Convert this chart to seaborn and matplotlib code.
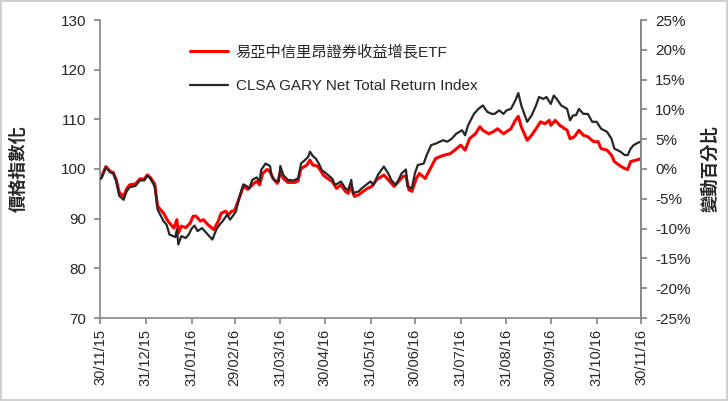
import pandas as pd
import seaborn as sns
import matplotlib.pyplot as plt

# ETF price index (rebased)
etf_dates = [
    '2015-11-30', '2015-12-01', '2015-12-04', '2015-12-07', '2015-12-09', '2015-12-11', '2015-12-13',
    '2015-12-16', '2015-12-18', '2015-12-20', '2015-12-24', '2015-12-27', '2015-12-30', '2016-01-01',
    '2016-01-03', '2016-01-06', '2016-01-08', '2016-01-12', '2016-01-15', '2016-01-19', '2016-01-21',
    '2016-01-22', '2016-01-24', '2016-01-27', '2016-01-30', '2016-02-01', '2016-02-03', '2016-02-06',
    '2016-02-08', '2016-02-11', '2016-02-15', '2016-02-18', '2016-02-20', '2016-02-23', '2016-02-25',
    '2016-02-27', '2016-02-29', '2016-03-04', '2016-03-06', '2016-03-09', '2016-03-13', '2016-03-15',
    '2016-03-17', '2016-03-19', '2016-03-22', '2016-03-24', '2016-03-26', '2016-03-29', '2016-03-31',
    '2016-04-02', '2016-04-05', '2016-04-10', '2016-04-12', '2016-04-14', '2016-04-18', '2016-04-20',
    '2016-04-22', '2016-04-25', '2016-04-27', '2016-04-29', '2016-05-01', '2016-05-05', '2016-05-08',
    '2016-05-11', '2016-05-14', '2016-05-16', '2016-05-18', '2016-05-20', '2016-05-23', '2016-05-26',
    '2016-05-29', '2016-06-01', '2016-06-04', '2016-06-09', '2016-06-12', '2016-06-16', '2016-06-19',
    '2016-06-22', '2016-06-24', '2016-06-26', '2016-06-28', '2016-07-01', '2016-07-03', '2016-07-07',
    '2016-07-10', '2016-07-14', '2016-07-17', '2016-07-20', '2016-07-24', '2016-07-27', '2016-07-31',
    '2016-08-03', '2016-08-06', '2016-08-10', '2016-08-13', '2016-08-15', '2016-08-19', '2016-08-22',
    '2016-08-25', '2016-08-29', '2016-08-31', '2016-09-03', '2016-09-06', '2016-09-08', '2016-09-10',
    '2016-09-14', '2016-09-17', '2016-09-20', '2016-09-23', '2016-09-26', '2016-09-29', '2016-09-30',
    '2016-10-03', '2016-10-06', '2016-10-11', '2016-10-13', '2016-10-16', '2016-10-19', '2016-10-22',
    '2016-10-25', '2016-10-29', '2016-11-01', '2016-11-03', '2016-11-07', '2016-11-10', '2016-11-12',
    '2016-11-16', '2016-11-19', '2016-11-21', '2016-11-23', '2016-11-27', '2016-11-30',
]
etf_values = [
    98.3, 98.5, 100.5, 99.5, 99.3, 97.8, 95.3,
    94.5, 96.0, 96.8, 97.0, 98.0, 98.0, 98.8,
    98.3, 97.0, 92.5, 91.1, 89.5, 88.1, 89.8,
    87.1, 88.5, 88.2, 89.1, 90.5, 90.5, 89.5,
    89.8, 88.8, 87.8, 89.5, 91.1, 91.5, 90.8,
    91.5, 91.6, 94.8, 96.5, 95.9, 97.1, 97.5,
    96.8, 99.1, 99.9, 99.5, 98.1, 97.1, 99.5,
    98.1, 97.3, 97.3, 97.6, 100.1, 100.8, 101.8,
    100.8, 100.6, 99.8, 98.8, 98.3, 97.5, 96.1,
    96.8, 95.5, 95.1, 96.8, 94.5, 94.8, 95.5,
    96.1, 96.5, 97.8, 98.8, 97.8, 96.5, 97.5,
    98.5, 98.6, 95.8, 95.5, 98.1, 99.1, 98.1,
    99.8, 102.1, 102.5, 102.8, 103.1, 103.8, 104.8,
    103.8, 106.1, 107.1, 108.5, 107.8, 107.1, 107.5,
    108.1, 107.1, 107.5, 108.1, 109.8, 110.6, 108.5,
    105.8, 106.8, 108.1, 109.5, 109.1, 109.8, 108.8,
    109.8, 108.8, 107.8, 106.1, 106.5, 107.8, 106.8,
    106.5, 105.5, 105.5, 104.1, 103.8, 102.8, 101.5,
    100.6, 100.1, 99.9, 101.5, 101.8, 102.1,
]

# CLSA GARY Net Total Return Index (rebased)
idx_dates = [
    '2015-11-30', '2015-12-01', '2015-12-04', '2015-12-07', '2015-12-09', '2015-12-11', '2015-12-13',
    '2015-12-16', '2015-12-18', '2015-12-20', '2015-12-24', '2015-12-27', '2015-12-30', '2016-01-01',
    '2016-01-03', '2016-01-06', '2016-01-08', '2016-01-12', '2016-01-14', '2016-01-16', '2016-01-20',
    '2016-01-21', '2016-01-22', '2016-01-24', '2016-01-27', '2016-01-29', '2016-01-31', '2016-02-02',
    '2016-02-04', '2016-02-07', '2016-02-10', '2016-02-14', '2016-02-17', '2016-02-19', '2016-02-21',
    '2016-02-24', '2016-02-26', '2016-02-28', '2016-03-01', '2016-03-04', '2016-03-06', '2016-03-08',
    '2016-03-10', '2016-03-12', '2016-03-15', '2016-03-17', '2016-03-18', '2016-03-21', '2016-03-24',
    '2016-03-25', '2016-03-27', '2016-03-30', '2016-03-31', '2016-04-02', '2016-04-05', '2016-04-09',
    '2016-04-12', '2016-04-14', '2016-04-17', '2016-04-19', '2016-04-20', '2016-04-22', '2016-04-24',
    '2016-04-26', '2016-04-28', '2016-05-01', '2016-05-05', '2016-05-07', '2016-05-09', '2016-05-11',
    '2016-05-14', '2016-05-16', '2016-05-18', '2016-05-19', '2016-05-23', '2016-05-25', '2016-05-28',
    '2016-05-31', '2016-06-02', '2016-06-05', '2016-06-09', '2016-06-12', '2016-06-14', '2016-06-17',
    '2016-06-19', '2016-06-21', '2016-06-24', '2016-06-25', '2016-06-28', '2016-06-30', '2016-07-02',
    '2016-07-06', '2016-07-08', '2016-07-11', '2016-07-14', '2016-07-17', '2016-07-19', '2016-07-22',
    '2016-07-25', '2016-07-28', '2016-08-01', '2016-08-03', '2016-08-05', '2016-08-09', '2016-08-12',
    '2016-08-15', '2016-08-18', '2016-08-21', '2016-08-23', '2016-08-26', '2016-08-29', '2016-08-31',
    '2016-09-03', '2016-09-06', '2016-09-08', '2016-09-10', '2016-09-14', '2016-09-17', '2016-09-20',
    '2016-09-22', '2016-09-25', '2016-09-27', '2016-09-30', '2016-10-02', '2016-10-04', '2016-10-07',
    '2016-10-11', '2016-10-13', '2016-10-15', '2016-10-17', '2016-10-19', '2016-10-22', '2016-10-25',
    '2016-10-28', '2016-10-31', '2016-11-03', '2016-11-07', '2016-11-10', '2016-11-12', '2016-11-16',
    '2016-11-19', '2016-11-21', '2016-11-23', '2016-11-25', '2016-11-28', '2016-11-30',
]
idx_values = [
    98.0, 98.1, 100.3, 99.3, 99.1, 97.5, 94.6,
    93.8, 95.5, 96.3, 96.6, 97.7, 97.7, 98.7,
    98.1, 96.5, 91.8, 89.5, 88.8, 86.8, 86.3,
    87.8, 84.8, 86.5, 86.1, 86.8, 88.0, 88.6,
    87.5, 88.1, 87.1, 85.8, 88.0, 88.8, 89.5,
    90.8, 89.8, 90.6, 91.5, 95.1, 96.9, 96.6,
    96.1, 97.8, 98.3, 97.5, 99.8, 101.1, 100.6,
    98.8, 97.7, 97.5, 100.6, 98.8, 97.8, 97.7,
    98.1, 101.1, 101.9, 102.5, 103.5, 102.6, 102.1,
    101.1, 99.8, 99.1, 98.1, 96.8, 97.1, 97.5,
    96.1, 95.8, 97.8, 95.1, 95.5, 96.1, 96.8,
    97.5, 96.8, 98.8, 100.5, 99.1, 97.8, 96.8,
    97.8, 99.1, 99.9, 96.5, 96.1, 99.1, 100.8,
    101.1, 102.8, 104.8, 105.1, 105.5, 105.8, 105.5,
    106.1, 107.1, 107.8, 106.8, 108.8, 111.1, 112.1,
    112.8, 111.5, 111.1, 111.1, 111.8, 111.1, 111.8,
    112.1, 113.8, 115.3, 112.8, 109.5, 110.8, 112.8,
    114.5, 114.1, 114.5, 113.1, 114.8, 114.1, 112.8,
    112.1, 109.8, 110.8, 110.8, 112.1, 111.1, 111.1,
    109.5, 109.5, 108.1, 107.5, 106.1, 104.1, 103.5,
    102.8, 102.8, 104.1, 104.8, 105.3, 105.5,
]

series_names = ['易亞中信里昂證券收益增長ETF', 'CLSA GARY Net Total Return Index']
tick_labels = ['30/11/15', '31/12/15', '31/01/16', '29/02/16', '31/03/16', '30/04/16', '31/05/16',
               '30/06/16', '31/07/16', '31/08/16', '30/09/16', '31/10/16', '30/11/16']
left_ticks = [70, 80, 90, 100, 110, 120, 130]
right_ticks = [-25, -20, -15, -10, -5, 0, 5, 10, 15, 20, 25]

etf = pd.DataFrame({'date': pd.to_datetime(etf_dates), 'value': etf_values, 'series': series_names[0]})
idx = pd.DataFrame({'date': pd.to_datetime(idx_dates), 'value': idx_values, 'series': series_names[1]})

sns.set_theme(style='white')
plt.rcParams['font.family'] = ['Liberation Sans', 'Noto Sans CJK TC', 'DejaVu Sans']
gray = '#868686'

fig = plt.figure(figsize=(7.28, 4.01), dpi=100)
fig.patch.set_edgecolor('#d0d0d0')
fig.patch.set_linewidth(1.5)
ax = fig.add_axes([100 / 728, 1 - 318 / 401, 541 / 728, 298 / 401])

sns.lineplot(data=etf, x='date', y='value', color='#ff0000', linewidth=2.2, ax=ax,
             label=series_names[0], zorder=2)
sns.lineplot(data=idx, x='date', y='value', color='#262626', linewidth=1.6, ax=ax,
             label=series_names[1], zorder=3)

tick_dates = pd.to_datetime(tick_labels, format='%d/%m/%y')
ax.set_xlim(tick_dates[0], tick_dates[-1])
ax.set_xticks(tick_dates)
ax.set_xticklabels(tick_labels, rotation=90, fontsize=10.5)
ax.set_ylim(70, 130)
ax.set_yticks(left_ticks)
ax.tick_params(axis='y', labelsize=11, length=4, color=gray, direction='out', left=True, pad=6)
ax.tick_params(axis='x', length=4, color=gray, direction='out', bottom=True, pad=4)
ax.set_xlabel('')
ax.set_ylabel('價格指數化', fontsize=12.5, family=['Noto Sans CJK TC'], fontweight='bold', labelpad=24)

for side in ['left', 'bottom', 'right']:
    ax.spines[side].set_color(gray)
    ax.spines[side].set_linewidth(1.2)
ax.spines['top'].set_visible(False)

ax2 = ax.twinx()
ax2.set_ylim(-25, 25)
ax2.set_yticks(right_ticks)
ax2.set_yticklabels([f'{t}%' for t in right_ticks])
ax2.tick_params(axis='y', labelsize=11, length=4, color=gray, direction='out', right=True, pad=6)
ax2.set_ylabel('變動百分比', fontsize=12.5, family=['Noto Sans CJK TC'], fontweight='bold',
               rotation=90, labelpad=8)
ax2.yaxis.set_label_position('right')
for s in ['top', 'left', 'bottom']:
    ax2.spines[s].set_visible(False)
ax2.spines['right'].set_color(gray)
ax2.spines['right'].set_linewidth(1.2)
ax2.grid(False)
ax.grid(False)

handles, labels = ax.get_legend_handles_labels()
ax.legend(handles, labels, loc='upper left', bbox_to_anchor=(0.141, 0.965), frameon=False,
          fontsize=11, handlelength=2.5, labelspacing=1.3, handletextpad=0.5)

fig.savefig('out.png', dpi=100)
